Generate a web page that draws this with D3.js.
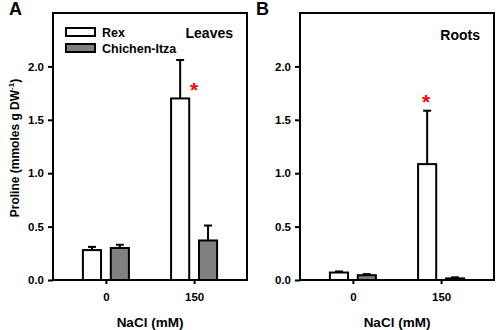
<!DOCTYPE html>
<html lang="en">
<head>
    <meta charset="UTF-8">
    <title>Proline</title>
    <style>
        body { margin: 0; background: #fff; }
        svg { display: block; font-family: "Liberation Sans", Arial, sans-serif; font-weight: bold; }
    </style>
</head>
<body>
    <script src="https://d3js.org/d3.v7.min.js"></script>
    <script>
        const categories = ['0', '150']
        const series = ['Rex', 'Chichen-Itza']
        const yTicks = [0, 0.5, 1.0, 1.5, 2.0]

        // leaves: [Rex, Chichen-Itza] per NaCl level
        const leavesRex = [0.28, 1.70]
        const leavesRexErr = [0.03, 0.36]
        const leavesCI = [0.30, 0.37]
        const leavesCIErr = [0.03, 0.14]

        const rootsRex = [0.07, 1.085]
        const rootsRexErr = [0.01, 0.50]
        const rootsCI = [0.045, 0.015]
        const rootsCIErr = [0.01, 0.01]

        const panels = [
            { letter: 'A', title: 'Leaves', left: 53, rex: leavesRex, rexErr: leavesRexErr, ci: leavesCI, ciErr: leavesCIErr, star: { cat: '150', y: 1.83, dx: 1 }, legend: true },
            { letter: 'B', title: 'Roots', left: 300, rex: rootsRex, rexErr: rootsRexErr, ci: rootsCI, ciErr: rootsCIErr, star: { cat: '150', y: 1.71, dx: -14 }, legend: false }
        ]

        const width = 496
        const height = 330
        const plotW = 194
        const plotTop = 13
        const plotBottom = 280
        const colors = { 'Rex': '#ffffff', 'Chichen-Itza': '#808080' }

        const svg = d3.select('body').append('svg')
            .attr('width', width)
            .attr('height', height)

        const y = d3.scaleLinear().domain([0, 2.5]).range([plotBottom, plotTop])
        const x = d3.scalePoint().domain(categories).range([0, plotW]).padding(0.6)
        const xs = d3.scaleBand().domain(series).range([-23, 23]).paddingInner(0.35)

        panels.forEach(p => {
            const g = svg.append('g').attr('transform', `translate(${p.left},0)`)

            // y axis ticks
            const yAxis = d3.axisLeft(y).tickValues(yTicks).tickFormat(d3.format('.1f')).tickSize(5).tickPadding(4)
            const ya = g.append('g').call(yAxis)
            ya.select('.domain').remove()
            ya.selectAll('line').attr('stroke', '#000').attr('stroke-width', 2)
            ya.selectAll('text').attr('font-size', 11.5).attr('font-weight', 'bold').attr('font-family', 'Liberation Sans, Arial, sans-serif').attr('fill', '#000')

            // x axis ticks
            const xAxis = d3.axisBottom(x).tickSize(4).tickPadding(9)
            const xa = g.append('g').attr('transform', `translate(0,${plotBottom})`).call(xAxis)
            xa.select('.domain').remove()
            xa.selectAll('line').attr('stroke', '#000').attr('stroke-width', 2)
            xa.selectAll('text').attr('font-size', 11.5).attr('font-weight', 'bold').attr('font-family', 'Liberation Sans, Arial, sans-serif').attr('fill', '#000')

            // bars
            const rows = []
            categories.forEach((c, i) => {
                rows.push({ cat: c, s: 'Rex', v: p.rex[i], e: p.rexErr[i] })
                rows.push({ cat: c, s: 'Chichen-Itza', v: p.ci[i], e: p.ciErr[i] })
            })

            // error bars (upper only)
            const eb = g.selectAll('.err').data(rows).enter().append('g')
            eb.append('line')
                .attr('x1', d => x(d.cat) + xs(d.s) + xs.bandwidth() / 2)
                .attr('x2', d => x(d.cat) + xs(d.s) + xs.bandwidth() / 2)
                .attr('y1', d => y(d.v))
                .attr('y2', d => y(d.v + d.e))
                .attr('stroke', '#000').attr('stroke-width', 2)
            eb.append('line')
                .attr('x1', d => x(d.cat) + xs(d.s) + xs.bandwidth() / 2 - 4)
                .attr('x2', d => x(d.cat) + xs(d.s) + xs.bandwidth() / 2 + 4)
                .attr('y1', d => y(d.v + d.e))
                .attr('y2', d => y(d.v + d.e))
                .attr('stroke', '#000').attr('stroke-width', 2)

            g.selectAll('.bar').data(rows).enter().append('rect')
                .attr('x', d => x(d.cat) + xs(d.s))
                .attr('y', d => y(d.v))
                .attr('width', xs.bandwidth())
                .attr('height', d => y(0) - y(d.v))
                .attr('fill', d => colors[d.s])
                .attr('stroke', '#000').attr('stroke-width', 2)

            // frame
            g.append('rect')
                .attr('x', 0).attr('y', plotTop)
                .attr('width', plotW).attr('height', plotBottom - plotTop)
                .attr('fill', 'none').attr('stroke', '#000').attr('stroke-width', 2)

            // significance star
            g.append('text')
                .attr('x', x(p.star.cat) + xs('Rex') + xs.bandwidth() + p.star.dx + 4)
                .attr('y', y(p.star.y) + 12)
                .attr('text-anchor', 'middle')
                .attr('font-size', 21)
                .attr('fill', '#ff0000')
                .text('*')

            // panel title
            g.append('text')
                .attr('x', plotW - 14).attr('y', p.legend ? 38 : 40)
                .attr('text-anchor', 'end')
                .attr('font-size', 14)
                .text(p.title)

            // panel letter
            g.append('text')
                .attr('x', -44).attr('y', 15)
                .attr('font-size', 18)
                .text(p.letter)

            // x title
            g.append('text')
                .attr('x', plotW / 2).attr('y', 327)
                .attr('text-anchor', 'middle')
                .attr('font-size', 13.5)
                .text('NaCl (mM)')

            if (p.legend) {
                const lg = g.selectAll('.lg').data(series).enter().append('g')
                    .attr('transform', (d, i) => `translate(13,${28 + i * 16})`)
                lg.append('rect')
                    .attr('width', 29).attr('height', 8)
                    .attr('fill', d => colors[d])
                    .attr('stroke', '#000').attr('stroke-width', 2)
                lg.append('text')
                    .attr('x', 36).attr('y', 9)
                    .attr('font-size', 12.5)
                    .text(d => d)
            }
        })

        // y title
        const yt = svg.append('text')
            .attr('transform', `translate(19,148) rotate(-90)`)
            .attr('text-anchor', 'middle')
            .attr('font-size', 12)
        yt.append('tspan').text('Proline (mmoles g DW')
        yt.append('tspan').attr('font-size', 8).attr('dy', -5).text('-1')
        yt.append('tspan').attr('dy', 5).text(')')
    </script>
</body>
</html>
